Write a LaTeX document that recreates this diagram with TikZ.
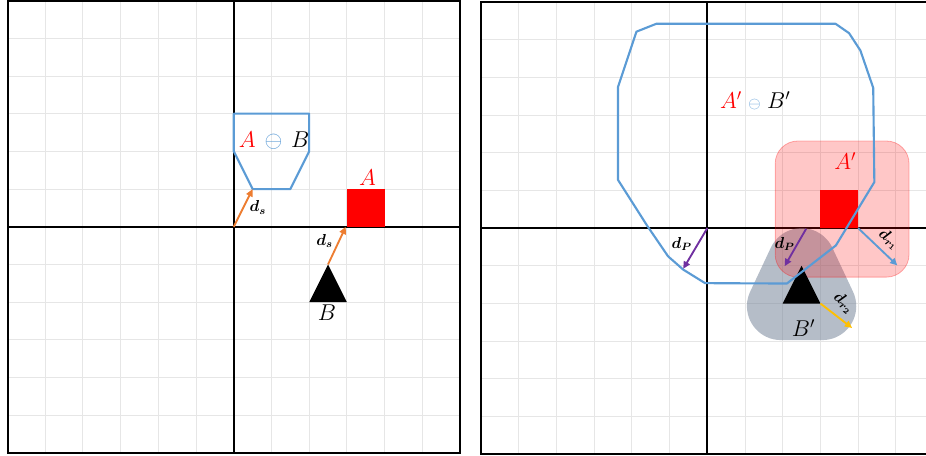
\documentclass[tikz,border=0pt]{standalone}
\usepackage{amsmath,amssymb,bm}
\usetikzlibrary{arrows.meta}
\definecolor{msblue}{RGB}{91,155,213}
\definecolor{msorange}{RGB}{237,125,49}
\definecolor{mspurple}{RGB}{112,48,160}
\definecolor{msgold}{RGB}{255,192,0}
\definecolor{msgray}{RGB}{120,134,155}
\definecolor{gridgray}{RGB}{230,230,230}

\begin{document}
\begin{tikzpicture}[
  gridline/.style={gridgray, line width=0.7pt},
  axisline/.style={black, line width=1.3pt},
  panel/.style={black, line width=1.5pt},
  vec/.style={line width=1.4pt, -{Triangle[length=5.5pt,width=5pt]}},
  biglabel/.style={font=\fontsize{17}{19}\selectfont, inner sep=1pt},
  dlabel/.style={font=\fontsize{11.5}{13}\selectfont, inner sep=0.5pt},
  minkline/.style={msblue, line width=1.6pt, line join=round}]
\clip (0,0) rectangle (24.56,12.07);

% left panel: A, B and A - B
\begin{scope}[shift={(6.2,6.055)}]
\draw[gridline] (-6,-6) grid (6,6);
\draw[axisline] (-6,0) -- (6,0);
\draw[axisline] (0,-6) -- (0,6);
\draw[panel] (-6,-6) rectangle (6,6);
\fill[red] (3,0) rectangle (4,1);
\fill[black] (2,-2) -- (3,-2) -- (2.5,-1) -- cycle;
\draw[minkline] (0,3) -- (2,3) -- (2,2) -- (1.5,1) -- (0.5,1) -- (0,2) -- cycle;
\coordinate (O1) at (0,0);
\coordinate (S1) at (0.5,1);
\coordinate (Btop) at (2.5,-1);
\coordinate (Acorner) at (2.97,0);
\draw[vec, msorange] (O1) -- (S1);
\draw[vec, msorange] (Btop) -- (Acorner);
\node[biglabel, red] (labA) at (3.55,1.29) {$A$};
\node[biglabel] (labB) at (2.47,-2.29) {$B$};
\node[biglabel] (labAB) at (1.07,2.29)
  {${\color{red}A}\,\mathbin{\color{msblue}\ominus}\,B$};
\node[dlabel] (ds1) at (0.64,0.51) {$\bm{d_s}$};
\node[dlabel] (ds2) at (2.41,-0.37) {$\bm{d_s}$};
\end{scope}

% right panel: A', B' and A' - B'
\begin{scope}[shift={(18.76,6.02)}]
\draw[gridline] (-6,-6) grid (6,6);
\draw[axisline] (0,-6) -- (0,6);
\draw[axisline, line width=1.8pt] (-6,0) -- (6,0);
\draw[panel] (-6,-6) rectangle (6,6);
% B' = B grown by d_r2
\fill[msgray, opacity=0.55] (1.95,-2.97) -- (3.05,-2.97)
  arc[start angle=-90, end angle=25.2, radius=0.9] -- (3.314,-0.517)
  arc[start angle=25.2, end angle=154.8, radius=0.9] -- (1.136,-1.687)
  arc[start angle=154.8, end angle=270, radius=0.9] -- cycle;
% A' = A grown by d_r1
\filldraw[fill=red, fill opacity=0.22, draw=red, draw opacity=0.3, line width=0.6pt,
  rounded corners=0.6cm] (1.8,-1.3) rectangle (5.35,2.31);
\fill[red] (3,0) rectangle (4,1);
\fill[black] (2,-2) -- (3,-2) -- (2.5,-1) -- cycle;
\draw[minkline] (-1.35,5.42) -- (3.40,5.42) -- (3.76,5.17) -- (4.06,4.71)
  -- (4.40,3.72) -- (4.43,1.22) -- (3.41,-0.46) -- (2.11,-1.47)
  -- (-0.06,-1.46) -- (-0.64,-1.10) -- (-1.04,-0.75) -- (-1.60,0.07)
  -- (-2.37,1.28) -- (-2.37,3.74) -- (-1.88,5.21) -- cycle;
\coordinate (O2) at (0,0);
\coordinate (P1) at (-0.64,-1.08);
\coordinate (Q0) at (2.62,-0.02);
\coordinate (Q1) at (2.05,-1.01);
\coordinate (R0) at (4,0);
\coordinate (R1) at (5.04,-0.99);
\coordinate (T0) at (3,-2);
\coordinate (T1) at (3.84,-2.65);
\draw[vec, mspurple] (O2) -- (P1);
\draw[vec, mspurple] (Q0) -- (Q1);
\draw[vec, msblue] (R0) -- (R1);
\draw[vec, msgold] (T0) -- (T1);
\node[biglabel] (labAB2) at (1.27,3.38)
  {${\color{red}A'}\;{\scriptstyle\color{msblue}\ominus}\;B'$};
\node[biglabel, red] (labA2) at (3.66,1.78) {$A'$};
\node[biglabel] (labB2) at (2.55,-2.65) {$B'$};
\node[dlabel] (dp1) at (-0.68,-0.42) {$\bm{d_P}$};
\node[dlabel] (dp2) at (2.05,-0.42) {$\bm{d_P}$};
\node[dlabel, rotate=-38] (dr1) at (4.82,-0.3) {$\bm{d_{r_1}}$};
\node[dlabel, rotate=-40] (dr2) at (3.62,-1.98) {$\bm{d_{r_2}}$};
\end{scope}
\end{tikzpicture}
\end{document}
